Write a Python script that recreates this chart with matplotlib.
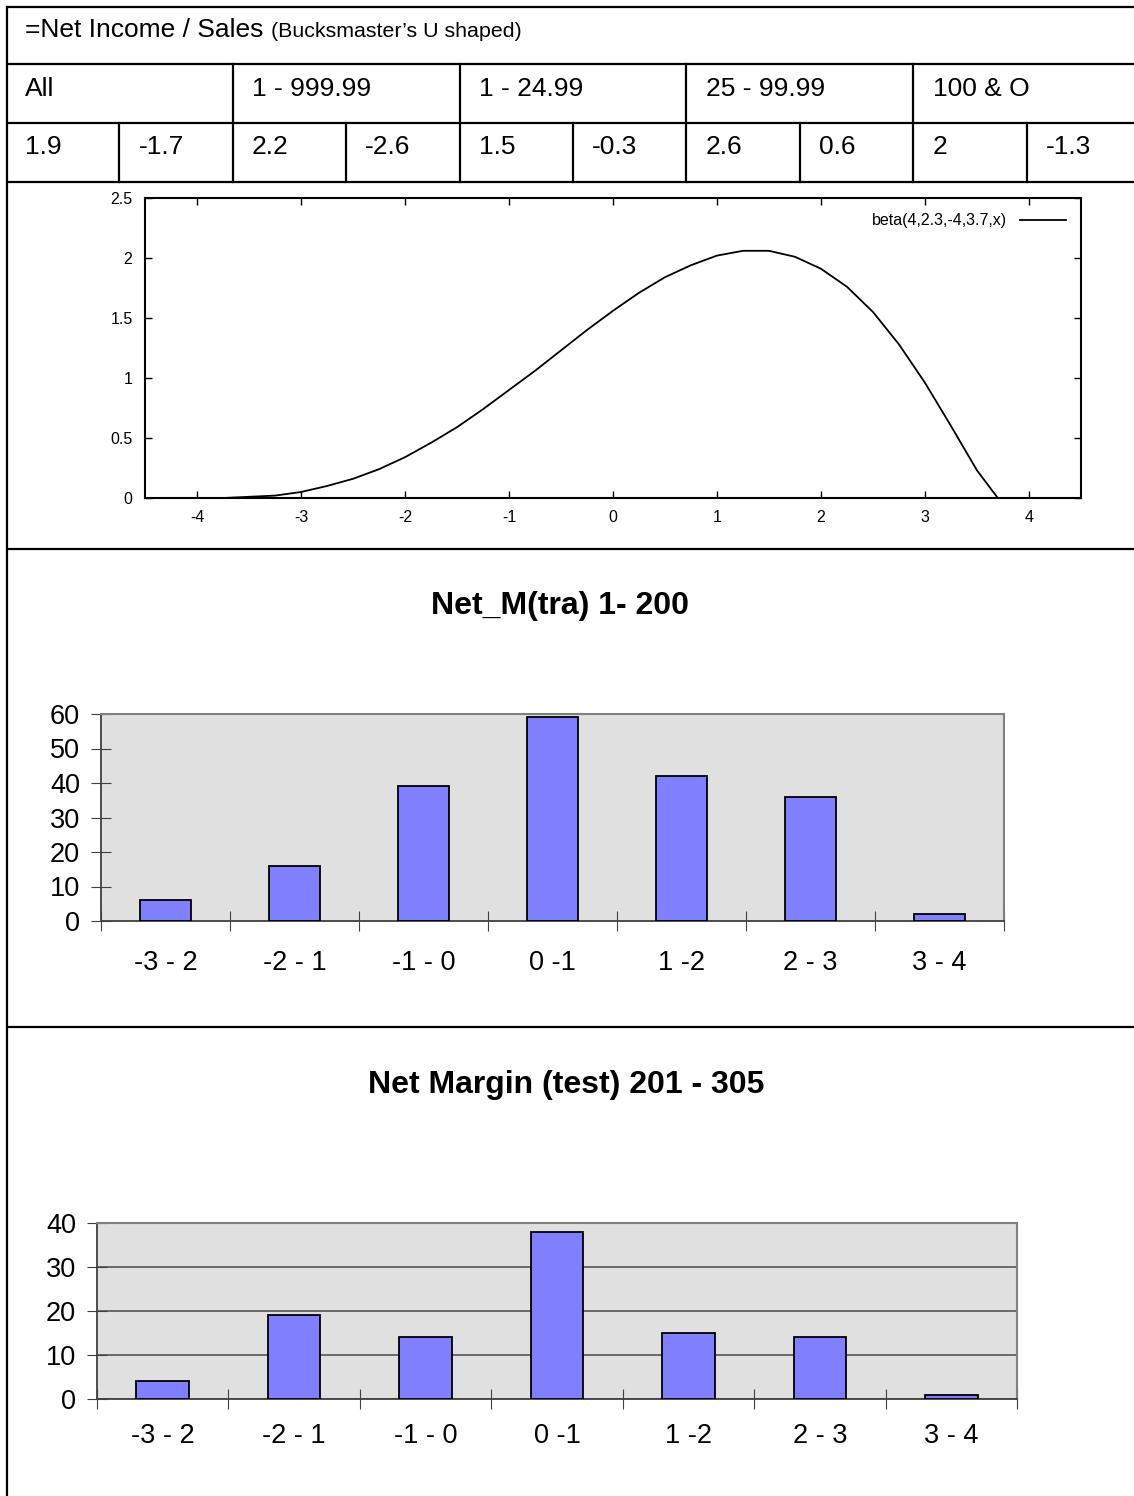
import matplotlib
matplotlib.use('Agg')
import matplotlib.pyplot as plt
import numpy as np

plt.rcParams['font.family'] = ['Liberation Sans', 'DejaVu Sans']

W = 1134
H = 1496

# 表格内容
title_main = '=Net Income / Sales '
title_note = '(Bucksmaster\u2019s U shaped)'
group_labels = ['All', '1 - 999.99', '1 - 24.99', '25 - 99.99', '100 & O']
cell_values = ['1.9', '-1.7', '2.2', '-2.6', '1.5', '-0.3', '2.6', '0.6', '2', '-1.3']

# gnuplot 曲线
curve_x = [-4.5, -4.25, -4.0, -3.75, -3.5, -3.25, -3.0, -2.75, -2.5, -2.25,
           -2.0, -1.75, -1.5, -1.25, -1.0, -0.75, -0.5, -0.25, 0.0, 0.25,
           0.5, 0.75, 1.0, 1.25, 1.5, 1.75, 2.0, 2.25, 2.5, 2.75,
           3.0, 3.25, 3.5, 3.7, 4.0, 4.25, 4.5]
curve_y = [0.0, 0.0, 0.0, 0.0, 0.01, 0.02, 0.05, 0.10, 0.16, 0.24,
           0.34, 0.46, 0.59, 0.74, 0.90, 1.06, 1.23, 1.40, 1.56, 1.71,
           1.84, 1.94, 2.02, 2.06, 2.06, 2.01, 1.91, 1.76, 1.55, 1.28,
           0.96, 0.60, 0.23, 0.0, 0.0, 0.0, 0.0]
curve_label = 'beta(4,2.3,-4,3.7,x)'

# 柱状图
bins = ['-3 - 2', '-2 - 1', '-1 - 0', '0 -1', '1 -2', '2 - 3', '3 - 4']
net_tra = [6, 16, 39, 59, 42, 36, 2]
net_test = [4, 19, 14, 38, 15, 14, 1]
title_tra = 'Net_M(tra) 1- 200'
title_test = 'Net Margin (test) 201 - 305'


def box(l, t, r, b):
    return [l / W, 1 - b / H, (r - l) / W, (b - t) / H]


fig = plt.figure(figsize=(W / 100, H / 100), dpi=100)

# 背景层: 表格线和文字
ov = fig.add_axes([0, 0, 1, 1], zorder=0)
ov.set_xlim(0, W)
ov.set_ylim(H, 0)
ov.axis('off')

lw = 1.6
for y in [7, 64, 123, 182, 549, 1027]:
    ov.plot([7, W], [y, y], color='k', lw=lw, solid_capstyle='butt')
ov.plot([7, 7], [7, H], color='k', lw=lw)
for x in [233, 460, 686, 913]:
    ov.plot([x, x], [64, 182], color='k', lw=lw)
for x in [119, 346, 573, 800, 1027]:
    ov.plot([x, x], [123, 182], color='k', lw=lw)

fs = 19
t1 = ov.text(25, 37, title_main, fontsize=fs, va='baseline')
r = fig.canvas.get_renderer()
bb = t1.get_window_extent(r)
x_end = ov.transData.inverted().transform((bb.x1, bb.y0))[0]
ov.text(x_end, 37, title_note, fontsize=15.4, va='baseline')

for i, s in enumerate(group_labels):
    ov.text(25 + i * 227, 96, s, fontsize=fs, va='baseline')
for i, s in enumerate(cell_values):
    ov.text(25 + i * 113.4, 154, s, fontsize=fs, va='baseline')

# gnuplot 曲线
ax0 = fig.add_axes(box(145, 198, 1081, 498))
ax0.plot(curve_x, curve_y, color='k', lw=1.3, label=curve_label)
ax0.set_xlim(-4.5, 4.5)
ax0.set_ylim(0, 2.5)
ax0.set_xticks(np.arange(-4, 5, 1))
ax0.set_yticks(np.arange(0, 2.6, 0.5))
ax0.set_xticklabels(['%d' % v for v in np.arange(-4, 5, 1)])
ax0.set_yticklabels(['0', '0.5', '1', '1.5', '2', '2.5'])
ax0.tick_params(direction='in', top=True, right=True, length=5, width=1,
                labelsize=11.5, pad=9)
for sp in ax0.spines.values():
    sp.set_linewidth(1.5)
ax0.legend(loc='upper right', frameon=False, markerfirst=False,
           fontsize=11.5, handlelength=2.9, borderaxespad=0.55)


def bar_chart(rect, vals, ymax, title, title_x, title_y, grid, xpad):
    ax = fig.add_axes(rect)
    ax.set_facecolor('#e0e0e0')
    x = np.arange(len(bins))
    ax.bar(x, vals, width=0.4, color='#8080ff', edgecolor='k', lw=1.3,
           zorder=3)
    ax.set_xlim(-0.5, len(bins) - 0.5)
    ax.set_ylim(0, ymax)
    ax.set_yticks(np.arange(0, ymax + 1, 10))
    ax.set_xticks(np.arange(-0.5, len(bins), 1))
    ax.set_xticklabels([])
    ax.set_xticks(x, minor=True)
    ax.set_xticklabels(bins, minor=True)
    ax.tick_params(axis='x', which='minor', length=0, labelsize=19.5, pad=xpad)
    ax.tick_params(axis='x', which='major', direction='inout', length=14,
                   color='#404040')
    ax.tick_params(axis='y', direction='inout', length=14, color='#404040',
                   labelsize=19.5, pad=8)
    for s in ['top', 'right']:
        ax.spines[s].set_color('#808080')
        ax.spines[s].set_linewidth(1.5)
    for s in ['left', 'bottom']:
        ax.spines[s].set_color('#404040')
        ax.spines[s].set_linewidth(1.3)
    if grid:
        ax.yaxis.grid(True, color='#606060', lw=1.3, zorder=1)
        ax.set_axisbelow(True)
    ov.text(title_x, title_y, title, fontsize=23, fontweight='bold',
            ha='center', va='center')
    return ax


bar_chart(box(101, 714, 1004, 921), net_tra, 60, title_tra, 560, 606, False, 21)
bar_chart(box(97, 1223, 1017, 1399), net_test, 40, title_test, 566, 1085, True, 17)

fig.savefig('out.png', dpi=100)
